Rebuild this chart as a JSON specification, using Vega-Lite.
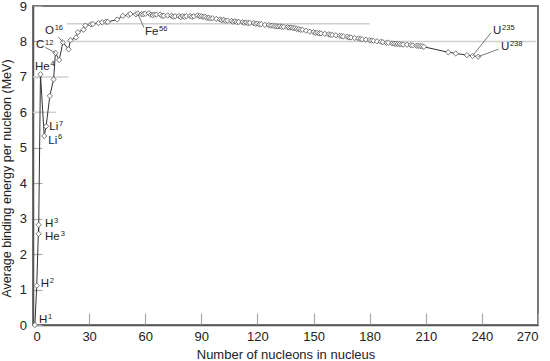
{
  "$schema": "https://vega.github.io/schema/vega-lite/v6.json",
  "width": 505,
  "height": 319,
  "autosize": "none",
  "padding": {"left": 33, "top": 6, "right": 12, "bottom": 36},
  "background": "white",
  "config": {
    "font": "Liberation Sans",
    "view": {"stroke": "#777", "strokeWidth": 2},
    "axis": {
      "domainColor": "#555",
      "domainWidth": 1.5,
      "tickColor": "#aaa",
      "tickWidth": 1.2,
      "grid": false,
      "labelOverlap": false,
      "labelFont": "Liberation Sans",
      "labelFontSize": 13,
      "labelColor": "#222",
      "titleFont": "Liberation Sans",
      "titleFontSize": 13,
      "titleFontWeight": "normal",
      "titleColor": "#222"
    }
  },
  "datasets": {
    "nuclides": [
      {"i": 1, "A": 1, "E": 0},
      {"i": 2, "A": 2, "E": 1.112},
      {"i": 3, "A": 3, "E": 2.827},
      {"i": 4, "A": 3, "E": 2.573},
      {"i": 5, "A": 4, "E": 7.074},
      {"i": 6, "A": 6, "E": 5.332},
      {"i": 7, "A": 7, "E": 5.606},
      {"i": 8, "A": 9, "E": 6.463},
      {"i": 9, "A": 11, "E": 6.928},
      {"i": 10, "A": 12, "E": 7.68},
      {"i": 11, "A": 14, "E": 7.476},
      {"i": 12, "A": 16, "E": 7.976},
      {"i": 13, "A": 19, "E": 7.779},
      {"i": 14, "A": 20, "E": 8.032},
      {"i": 15, "A": 23, "E": 8.112},
      {"i": 16, "A": 24, "E": 8.261},
      {"i": 17, "A": 27, "E": 8.332},
      {"i": 18, "A": 28, "E": 8.448},
      {"i": 19, "A": 31, "E": 8.481},
      {"i": 20, "A": 32, "E": 8.493},
      {"i": 21, "A": 35, "E": 8.52},
      {"i": 22, "A": 37, "E": 8.54},
      {"i": 23, "A": 39, "E": 8.557},
      {"i": 24, "A": 40, "E": 8.551},
      {"i": 25, "A": 45, "E": 8.619},
      {"i": 26, "A": 48, "E": 8.723},
      {"i": 27, "A": 51, "E": 8.742},
      {"i": 28, "A": 52, "E": 8.776},
      {"i": 29, "A": 55, "E": 8.765},
      {"i": 30, "A": 56, "E": 8.79},
      {"i": 31, "A": 58, "E": 8.77},
      {"i": 32, "A": 59, "E": 8.768},
      {"i": 33, "A": 60, "E": 8.781},
      {"i": 34, "A": 62, "E": 8.795},
      {"i": 35, "A": 63, "E": 8.752},
      {"i": 36, "A": 64, "E": 8.745},
      {"i": 37, "A": 65, "E": 8.757},
      {"i": 38, "A": 66, "E": 8.76},
      {"i": 39, "A": 68, "E": 8.756},
      {"i": 40, "A": 69, "E": 8.725},
      {"i": 41, "A": 70, "E": 8.722},
      {"i": 42, "A": 72, "E": 8.732},
      {"i": 43, "A": 74, "E": 8.725},
      {"i": 44, "A": 75, "E": 8.701},
      {"i": 45, "A": 76, "E": 8.711},
      {"i": 46, "A": 78, "E": 8.718},
      {"i": 47, "A": 79, "E": 8.688},
      {"i": 48, "A": 80, "E": 8.711},
      {"i": 49, "A": 81, "E": 8.696},
      {"i": 50, "A": 82, "E": 8.711},
      {"i": 51, "A": 84, "E": 8.717},
      {"i": 52, "A": 85, "E": 8.697},
      {"i": 53, "A": 86, "E": 8.712},
      {"i": 54, "A": 88, "E": 8.733},
      {"i": 55, "A": 89, "E": 8.714},
      {"i": 56, "A": 90, "E": 8.71},
      {"i": 57, "A": 91, "E": 8.693},
      {"i": 58, "A": 92, "E": 8.693},
      {"i": 59, "A": 93, "E": 8.664},
      {"i": 60, "A": 94, "E": 8.667},
      {"i": 61, "A": 95, "E": 8.649},
      {"i": 62, "A": 96, "E": 8.654},
      {"i": 63, "A": 98, "E": 8.635},
      {"i": 64, "A": 100, "E": 8.619},
      {"i": 65, "A": 101, "E": 8.601},
      {"i": 66, "A": 102, "E": 8.607},
      {"i": 67, "A": 103, "E": 8.584},
      {"i": 68, "A": 104, "E": 8.587},
      {"i": 69, "A": 106, "E": 8.58},
      {"i": 70, "A": 107, "E": 8.554},
      {"i": 71, "A": 108, "E": 8.567},
      {"i": 72, "A": 109, "E": 8.548},
      {"i": 73, "A": 110, "E": 8.551},
      {"i": 74, "A": 112, "E": 8.545},
      {"i": 75, "A": 113, "E": 8.527},
      {"i": 76, "A": 114, "E": 8.532},
      {"i": 77, "A": 115, "E": 8.517},
      {"i": 78, "A": 116, "E": 8.523},
      {"i": 79, "A": 118, "E": 8.517},
      {"i": 80, "A": 119, "E": 8.499},
      {"i": 81, "A": 120, "E": 8.505},
      {"i": 82, "A": 121, "E": 8.482},
      {"i": 83, "A": 122, "E": 8.488},
      {"i": 84, "A": 124, "E": 8.467},
      {"i": 85, "A": 126, "E": 8.463},
      {"i": 86, "A": 127, "E": 8.445},
      {"i": 87, "A": 128, "E": 8.449},
      {"i": 88, "A": 129, "E": 8.431},
      {"i": 89, "A": 130, "E": 8.43},
      {"i": 90, "A": 131, "E": 8.424},
      {"i": 91, "A": 132, "E": 8.428},
      {"i": 92, "A": 133, "E": 8.41},
      {"i": 93, "A": 134, "E": 8.414},
      {"i": 94, "A": 136, "E": 8.403},
      {"i": 95, "A": 137, "E": 8.392},
      {"i": 96, "A": 138, "E": 8.394},
      {"i": 97, "A": 139, "E": 8.378},
      {"i": 98, "A": 140, "E": 8.376},
      {"i": 99, "A": 141, "E": 8.354},
      {"i": 100, "A": 142, "E": 8.346},
      {"i": 101, "A": 143, "E": 8.33},
      {"i": 102, "A": 144, "E": 8.327},
      {"i": 103, "A": 146, "E": 8.304},
      {"i": 104, "A": 148, "E": 8.277},
      {"i": 105, "A": 150, "E": 8.262},
      {"i": 106, "A": 151, "E": 8.24},
      {"i": 107, "A": 152, "E": 8.245},
      {"i": 108, "A": 153, "E": 8.229},
      {"i": 109, "A": 154, "E": 8.227},
      {"i": 110, "A": 156, "E": 8.215},
      {"i": 111, "A": 158, "E": 8.202},
      {"i": 112, "A": 159, "E": 8.189},
      {"i": 113, "A": 160, "E": 8.183},
      {"i": 114, "A": 162, "E": 8.174},
      {"i": 115, "A": 164, "E": 8.159},
      {"i": 116, "A": 165, "E": 8.147},
      {"i": 117, "A": 166, "E": 8.142},
      {"i": 118, "A": 168, "E": 8.13},
      {"i": 119, "A": 169, "E": 8.115},
      {"i": 120, "A": 170, "E": 8.112},
      {"i": 121, "A": 172, "E": 8.097},
      {"i": 122, "A": 174, "E": 8.084},
      {"i": 123, "A": 175, "E": 8.069},
      {"i": 124, "A": 176, "E": 8.064},
      {"i": 125, "A": 178, "E": 8.049},
      {"i": 126, "A": 180, "E": 8.035},
      {"i": 127, "A": 181, "E": 8.023},
      {"i": 128, "A": 182, "E": 8.018},
      {"i": 129, "A": 184, "E": 8.005},
      {"i": 130, "A": 186, "E": 7.989},
      {"i": 131, "A": 187, "E": 7.978},
      {"i": 132, "A": 189, "E": 7.963},
      {"i": 133, "A": 190, "E": 7.962},
      {"i": 134, "A": 192, "E": 7.948},
      {"i": 135, "A": 193, "E": 7.938},
      {"i": 136, "A": 194, "E": 7.936},
      {"i": 137, "A": 195, "E": 7.927},
      {"i": 138, "A": 196, "E": 7.925},
      {"i": 139, "A": 197, "E": 7.916},
      {"i": 140, "A": 198, "E": 7.914},
      {"i": 141, "A": 200, "E": 7.906},
      {"i": 142, "A": 202, "E": 7.897},
      {"i": 143, "A": 203, "E": 7.887},
      {"i": 144, "A": 205, "E": 7.878},
      {"i": 145, "A": 206, "E": 7.875},
      {"i": 146, "A": 207, "E": 7.87},
      {"i": 147, "A": 208, "E": 7.868},
      {"i": 148, "A": 209, "E": 7.848},
      {"i": 149, "A": 222, "E": 7.695},
      {"i": 150, "A": 226, "E": 7.662},
      {"i": 151, "A": 232, "E": 7.615},
      {"i": 152, "A": 235, "E": 7.591},
      {"i": 153, "A": 238, "E": 7.57}
    ],
    "guides": [
      {"E": 8, "from": 18, "to": 269},
      {"E": 8.5, "from": 18, "to": 180},
      {"E": 7, "from": 0, "to": 19},
      {"E": 6, "from": 0, "to": 12.5}
    ],
    "leaders": [
      {"A1": 6.6, "E1": 7.83, "A2": 12, "E2": 7.68},
      {"A1": 13.5, "E1": 8.13, "A2": 16, "E2": 7.976},
      {"A1": 56, "E1": 8.79, "A2": 59.3, "E2": 8.39},
      {"A1": 235, "E1": 7.591, "A2": 244.9, "E2": 8.25},
      {"A1": 238, "E1": 7.57, "A2": 248.8, "E2": 7.78}
    ],
    "names": [
      {"A": 1.07, "E": 7.285, "t": "He"},
      {"A": 8.7, "E": 5.58, "t": "Li"},
      {"A": 8.2, "E": 5.2, "t": "Li"},
      {"A": 1.6, "E": 7.89, "t": "C"},
      {"A": 6.4, "E": 8.3, "t": "O"},
      {"A": 59.9, "E": 8.27, "t": "Fe"},
      {"A": 245.9, "E": 8.3, "t": "U"},
      {"A": 250.2, "E": 7.83, "t": "U"},
      {"A": 6.4, "E": 2.84, "t": "H"},
      {"A": 6.4, "E": 2.47, "t": "He"},
      {"A": 4.1, "E": 1.15, "t": "H"},
      {"A": 3.2, "E": 0.14, "t": "H"}
    ],
    "masses": [
      {"A": 9.4, "E": 7.375, "t": "4"},
      {"A": 13.85, "E": 5.67, "t": "7"},
      {"A": 13.3, "E": 5.29, "t": "6"},
      {"A": 6.4, "E": 7.97, "t": "12"},
      {"A": 11.6, "E": 8.39, "t": "16"},
      {"A": 67.4, "E": 8.36, "t": "56"},
      {"A": 250.8, "E": 8.39, "t": "235"},
      {"A": 255.0, "E": 7.92, "t": "238"},
      {"A": 11.2, "E": 2.93, "t": "3"},
      {"A": 14.8, "E": 2.56, "t": "3"},
      {"A": 8.9, "E": 1.24, "t": "2"},
      {"A": 8.0, "E": 0.23, "t": "1"}
    ]
  },
  "layer": [
    {
      "data": {"name": "guides"},
      "mark": {"type": "rule", "color": "#cfcfcf", "strokeWidth": 1.5},
      "encoding": {
        "x": {
          "field": "from", "type": "quantitative",
          "scale": {"domain": [0, 270], "nice": false},
          "axis": {
            "title": "Number of nucleons in nucleus",
            "values": [0, 30, 60, 90, 120, 150, 180, 210, 240, 270],
            "labelOverlap": false,
            "tickSize": -12,
            "labelPadding": 17,
            "titlePadding": 5
          }
        },
        "x2": {"field": "to"},
        "y": {
          "field": "E", "type": "quantitative",
          "scale": {"domain": [0, 9], "nice": false},
          "axis": {
            "title": "Average binding energy per nucleon (MeV)",
            "values": [0, 1, 2, 3, 4, 5, 6, 7, 8, 9],
            "tickCount": 10,
            "labelOverlap": false,
            "tickSize": -9,
            "labelPadding": 15.5,
            "titlePadding": 6,
            "titleY": 172,
            "titleFontSize": 12.5
          }
        }
      }
    },
    {
      "data": {"name": "nuclides"},
      "mark": {"type": "line", "color": "#333", "strokeWidth": 1},
      "encoding": {
        "x": {"field": "A", "type": "quantitative"},
        "y": {"field": "E", "type": "quantitative"},
        "order": {"field": "i", "type": "quantitative"}
      }
    },
    {
      "data": {"name": "nuclides"},
      "mark": {"type": "point", "shape": "diamond", "filled": true, "fill": "white", "stroke": "#555", "strokeWidth": 0.8, "size": 28, "opacity": 1},
      "encoding": {
        "x": {"field": "A", "type": "quantitative"},
        "y": {"field": "E", "type": "quantitative"}
      }
    },
    {
      "data": {"name": "leaders"},
      "mark": {"type": "rule", "color": "#555", "strokeWidth": 0.8},
      "encoding": {
        "x": {"field": "A1", "type": "quantitative"},
        "y": {"field": "E1", "type": "quantitative"},
        "x2": {"field": "A2"},
        "y2": {"field": "E2"}
      }
    },
    {
      "data": {"name": "names"},
      "mark": {"type": "text", "align": "left", "baseline": "middle", "fontSize": 11.5, "color": "#222", "font": "Liberation Sans"},
      "encoding": {
        "x": {"field": "A", "type": "quantitative"},
        "y": {"field": "E", "type": "quantitative"},
        "text": {"field": "t"}
      }
    },
    {
      "data": {"name": "masses"},
      "mark": {"type": "text", "align": "left", "baseline": "middle", "fontSize": 7.5, "color": "#222", "font": "Liberation Sans"},
      "encoding": {
        "x": {"field": "A", "type": "quantitative"},
        "y": {"field": "E", "type": "quantitative"},
        "text": {"field": "t"}
      }
    }
  ]
}
